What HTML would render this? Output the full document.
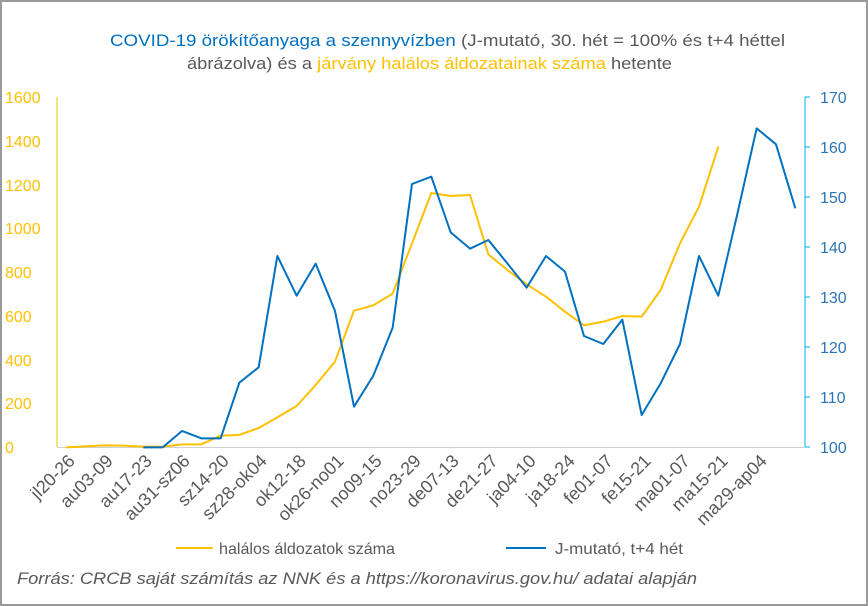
<!DOCTYPE html>
<html><head><meta charset="utf-8"><style>
body{margin:0;background:#fff}
svg{display:block;font-family:"Liberation Sans",sans-serif}
</style></head><body>
<svg width="868" height="606" viewBox="0 0 868 606">
<rect x="1" y="1" width="866" height="604" fill="#fff" stroke="#9a9a9a" stroke-width="2"/>
<text x="110" y="46" font-size="17" textLength="675" lengthAdjust="spacingAndGlyphs" fill="#595959"><tspan fill="#0070C0">COVID-19 örökítőanyaga a szennyvízben</tspan> (J-mutató, 30. hét = 100% és t+4 héttel</text>
<text x="187" y="69" font-size="17" textLength="485" lengthAdjust="spacingAndGlyphs" fill="#595959">ábrázolva) és a <tspan fill="#FFC000">járvány halálos áldozatainak száma</tspan> hetente</text>
<g font-size="16" fill="#FFC000">
<text x="5" y="103">1600</text><text x="5" y="147">1400</text><text x="5" y="191">1200</text><text x="5" y="234">1000</text><text x="5" y="278">800</text><text x="5" y="322">600</text><text x="5" y="366">400</text><text x="5" y="409">200</text><text x="5" y="453">0</text>
</g>
<g font-size="16" fill="#2E75B6">
<text x="820" y="103">170</text><text x="820" y="153">160</text><text x="820" y="203">150</text><text x="820" y="253">140</text><text x="820" y="303">130</text><text x="820" y="353">120</text><text x="820" y="403">110</text><text x="820" y="453">100</text>
</g>
<line x1="57" y1="97" x2="57" y2="447" stroke="#FFC000" stroke-width="1"/>
<line x1="57" y1="447.5" x2="805" y2="447.5" stroke="#d0d0d0" stroke-width="1"/>
<line x1="805" y1="97" x2="805" y2="447" stroke="#00B0F0" stroke-width="1"/>
<g stroke="#00B0F0" stroke-width="1">
<line x1="805" y1="97" x2="810" y2="97"/><line x1="805" y1="147" x2="810" y2="147"/><line x1="805" y1="197" x2="810" y2="197"/><line x1="805" y1="247" x2="810" y2="247"/><line x1="805" y1="297" x2="810" y2="297"/><line x1="805" y1="347" x2="810" y2="347"/><line x1="805" y1="397" x2="810" y2="397"/><line x1="805" y1="447" x2="810" y2="447"/>
</g>
<g transform="translate(50,90) scale(0.33333)" fill="none" stroke-width="2" stroke-linejoin="round">
<polyline vector-effect="non-scaling-stroke" stroke="#FFC000" points="48,1072 106,1069 164,1066 222,1067 280,1070 338,1070 396,1063 454,1063 512,1037 568,1035 626,1014 682,982 740,948 797,885 855,815 912,662 970,646 1028,611 1086,460 1144,309 1202,318 1260,315 1315,493 1372,540 1430,583 1488,620 1545,665 1602,706 1660,695 1717,678 1775,680 1832,600 1890,460 1947,350 2005,170"/>
<polyline vector-effect="non-scaling-stroke" stroke="#0070C0" points="280,1072 338,1072 396,1023 454,1045 512,1045 568,878 626,832 682,498 740,617 797,521 855,663 912,950 970,857 1028,713 1086,282 1144,260 1202,427 1260,476 1315,450 1372,520 1430,593 1488,498 1545,545 1602,738 1660,762 1717,689 1775,975 1832,880 1890,762 1947,498 2005,617 2062,372 2120,115 2178,163 2236,355"/>
</g>
<g font-size="18" fill="#595959" text-anchor="end">
<text transform="translate(76,462) rotate(-45)">jl20-26</text>
<text transform="translate(114,462) rotate(-45)">au03-09</text>
<text transform="translate(153,462) rotate(-45)">au17-23</text>
<text transform="translate(191,462) rotate(-45)">au31-sz06</text>
<text transform="translate(230,462) rotate(-45)">sz14-20</text>
<text transform="translate(268,462) rotate(-45)">sz28-ok04</text>
<text transform="translate(307,462) rotate(-45)">ok12-18</text>
<text transform="translate(345,462) rotate(-45)">ok26-no01</text>
<text transform="translate(383,462) rotate(-45)">no09-15</text>
<text transform="translate(422,462) rotate(-45)">no23-29</text>
<text transform="translate(460,462) rotate(-45)">de07-13</text>
<text transform="translate(499,462) rotate(-45)">de21-27</text>
<text transform="translate(537,462) rotate(-45)">ja04-10</text>
<text transform="translate(576,462) rotate(-45)">ja18-24</text>
<text transform="translate(614,462) rotate(-45)">fe01-07</text>
<text transform="translate(652,462) rotate(-45)">fe15-21</text>
<text transform="translate(691,462) rotate(-45)">ma01-07</text>
<text transform="translate(729,462) rotate(-45)">ma15-21</text>
<text transform="translate(768,462) rotate(-45)">ma29-ap04</text>
</g>
<line x1="176" y1="548" x2="213" y2="548" stroke="#FFC000" stroke-width="2"/>
<text x="219" y="554" font-size="16" textLength="176" lengthAdjust="spacingAndGlyphs" fill="#595959">halálos áldozatok száma</text>
<line x1="506" y1="548" x2="546" y2="548" stroke="#0070C0" stroke-width="2"/>
<text x="555" y="554" font-size="16" textLength="128" lengthAdjust="spacingAndGlyphs" fill="#595959">J-mutató, t+4 hét</text>
<text x="17" y="584" font-size="17" font-style="italic" textLength="680" lengthAdjust="spacingAndGlyphs" fill="#595959">Forrás: CRCB saját számítás az NNK és a https://koronavirus.gov.hu/ adatai alapján</text>
</svg>
</body></html>
